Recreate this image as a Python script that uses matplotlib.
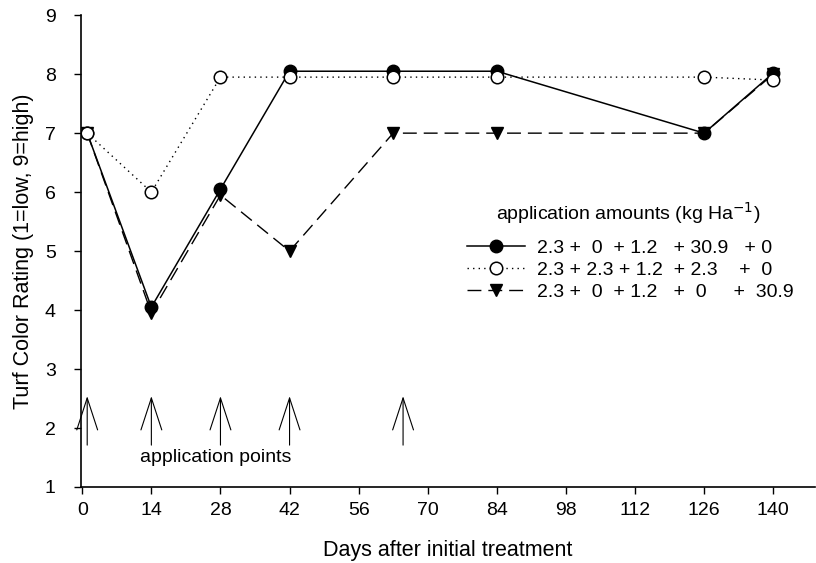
import matplotlib
matplotlib.use('Agg')
import matplotlib.pyplot as plt

plt.rcParams['font.family'] = ['Liberation Sans', 'DejaVu Sans']

# sampling days and turf colour ratings for each application schedule
days = [1, 14, 28, 42, 63, 84, 126, 140]
rating_a = [7.0, 4.05, 6.05, 8.05, 8.05, 8.05, 7.0, 8.02]
rating_b = [7.0, 6.0, 7.95, 7.95, 7.95, 7.95, 7.95, 7.9]
rating_c = [7.0, 3.95, 5.95, 5.0, 7.0, 7.0, 7.0, 8.0]

labels = ['2.3 +  0  + 1.2   + 30.9   + 0',
          '2.3 + 2.3 + 1.2  + 2.3    +  0',
          '2.3 +  0  + 1.2   +  0     +  30.9']

# days on which fertiliser was applied
app_days = [1, 14, 28, 42, 65]

x_ticks = list(range(0, 141, 14))
y_ticks = list(range(1, 10))

fig = plt.figure(figsize=(8.16, 5.63), dpi=100)
ax = fig.add_axes([0.099, 0.135, 0.9, 0.838])

ax.plot(days, rating_a, color='black', linestyle='-', linewidth=1.1,
        marker='o', markersize=9, markerfacecolor='black', markeredgecolor='black',
        label=labels[0], zorder=3)
ax.plot(days, rating_b, color='black', linestyle=(0, (1, 3)), linewidth=1.0,
        marker='o', markersize=9, markerfacecolor='white', markeredgecolor='black',
        markeredgewidth=1.1, label=labels[1], zorder=4)
ax.plot(days, rating_c, color='black', linestyle=(0, (10, 5)), linewidth=1.0,
        marker='v', markersize=9, markerfacecolor='black', markeredgecolor='black',
        label=labels[2], zorder=3)

for d in app_days:
    ax.annotate('', xy=(d, 2.54), xytext=(d, 1.71),
                arrowprops=dict(arrowstyle='->,head_length=2.3,head_width=0.75',
                                lw=0.8, color='black', shrinkA=0, shrinkB=0,
                                mutation_scale=10))
ax.text(11.6, 1.5, 'application points', fontsize=14, va='center', ha='left')

ax.set_xlim(-0.3, 148.5)
ax.set_ylim(1, 9)
ax.set_xticks(x_ticks)
ax.set_yticks(y_ticks)
ax.tick_params(direction='out', length=5, width=1, labelsize=14)
ax.tick_params(axis='x', pad=6)
ax.tick_params(axis='y', pad=13)
ax.spines['top'].set_visible(False)
ax.spines['right'].set_visible(False)
ax.spines['left'].set_linewidth(1.2)
ax.spines['bottom'].set_linewidth(1.2)

ax.set_xlabel('Days after initial treatment', fontsize=15.5, labelpad=15)
ax.set_ylabel('Turf Color Rating (1=low, 9=high)', fontsize=15.5, labelpad=8)

# legend title drawn on its own so the gap above the entries can be set
ax.text(0.746, 0.581, 'application amounts (kg Ha$^{-1}$)', fontsize=14,
        ha='center', va='center', transform=ax.transAxes)
leg = ax.legend(loc='center left', bbox_to_anchor=(0.526, 0.46), frameon=False,
                fontsize=14, handlelength=3.0, numpoints=1, labelspacing=0.23,
                handletextpad=0.6, borderaxespad=0, borderpad=0)

fig.savefig('out.png', dpi=100)
